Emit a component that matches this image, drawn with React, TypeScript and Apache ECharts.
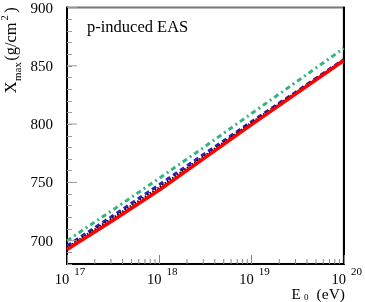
import React, { useEffect, useRef } from 'react';
import * as echarts from 'echarts';

const exponents = [17, 17.5, 18, 18.5, 19, 19.5, 20];
const redValues = [692.5, 717.5, 743.5, 771.5, 799.5, 827, 854.5];
const blackValues = [694, 719.5, 745.5, 773, 801, 828, 855];
const blueValues = [695.5, 721.5, 748, 775, 802, 828.5, 855.5];
const greenValues = [700, 726.5, 753.5, 781, 809, 837, 865];

const yMajorTicks = [700, 750, 800, 850, 900];
const xDecades = [17, 18, 19];
const xMinorMultipliers = [2, 3, 4, 5, 6, 7, 8, 9];

const FONT = 'Liberation Serif';

export default function App() {
  const ref = useRef<HTMLDivElement>(null);
  useEffect(() => {
    const chart = echarts.init(ref.current!, null, { renderer: 'svg' });
    const toPairs = (vals: number[]) => exponents.map((e, i) => [Math.pow(10, e), vals[i]]);
    const xMinor: number[][] = [];
    xDecades.forEach((d) => xMinorMultipliers.forEach((m) => xMinor.push([m * Math.pow(10, d), 680])));
    const yMajor = yMajorTicks.map((v) => [1e17, v]);

    const option: any = {
      animation: false,
      grid: { left: 67, right: 19, top: 7, bottom: 38, show: true, borderColor: '#777', borderWidth: 2, backgroundColor: 'transparent' },
      xAxis: [
        {
          type: 'log', logBase: 10, min: 1e17, max: 1e20,
          axisLine: { lineStyle: { color: '#000', width: 2 } },
          axisTick: { inside: true, length: 9, lineStyle: { color: '#888', width: 1 } },
          splitLine: { show: false },
          axisLabel: {
            showMinLabel: true, showMaxLabel: true, margin: 1,
            formatter: (v: number) => `{b|10}{s|${Math.round(Math.log10(v))}}`,
            rich: {
              b: { fontFamily: FONT, fontSize: 14.5, color: '#000', lineHeight: 21, verticalAlign: 'bottom', padding: [0, 5, 0, 6] },
              s: { fontFamily: FONT, fontSize: 11, color: '#000', lineHeight: 12, verticalAlign: 'top' },
            },
          },
        },
      ],
      yAxis: [
        {
          type: 'value', min: 680, max: 900, interval: 10,
          axisLine: { lineStyle: { color: '#000', width: 2 } },
          axisTick: { inside: true, length: 5, lineStyle: { color: '#999', width: 1 } },
          splitLine: { show: false },
          axisLabel: { customValues: yMajorTicks, fontFamily: FONT, fontSize: 15, color: '#000', margin: 14 },
        },
        {
          type: 'value', min: 680, max: 900, interval: 10, position: 'right',
          axisLine: { show: true, lineStyle: { color: '#000', width: 2 } },
          axisTick: { show: false }, axisLabel: { show: false }, splitLine: { show: false },
        },
      ],
      series: [
        {
          type: 'line', data: toPairs(greenValues), symbol: 'none',
          lineStyle: { color: '#35b383', width: 3, type: [5, 3.5, 2, 3.5] }, z: 2,
        },
        {
          type: 'line', data: toPairs(blueValues), symbol: 'none',
          lineStyle: { color: '#3020b8', width: 3, type: [5, 3.5] }, z: 3,
        },
        {
          type: 'line', data: toPairs(blackValues), symbol: 'none',
          lineStyle: { color: '#000', width: 2.5, type: [1.5, 1.5] }, z: 4,
        },
        {
          type: 'line', data: toPairs(redValues), symbol: 'none',
          lineStyle: { color: '#ff0000', width: 3.5, type: 'solid' }, z: 5,
        },
        {
          type: 'custom', silent: true, clip: false, z: 6, data: xMinor,
          renderItem: (params: any, api: any) => {
            const p = api.coord([api.value(0), api.value(1)]);
            return { type: 'line', shape: { x1: p[0], y1: p[1], x2: p[0], y2: p[1] - 5 }, style: { stroke: '#888', lineWidth: 1 } };
          },
        },
        {
          type: 'custom', silent: true, clip: false, z: 6, data: yMajor,
          renderItem: (params: any, api: any) => {
            const p = api.coord([api.value(0), api.value(1)]);
            return { type: 'line', shape: { x1: p[0], y1: p[1], x2: p[0] + 10, y2: p[1] }, style: { stroke: '#999', lineWidth: 1 } };
          },
        },
      ],
      graphic: [
        { type: 'text', left: 87, top: 18, style: { text: 'p-induced EAS', fontFamily: FONT, fontSize: 16.5, fill: '#000' } },
        {
          type: 'group', x: 0, y: 93.3, rotation: Math.PI / 2,
          children: [
            { type: 'text', x: 0, y: 10.7, style: { text: 'X', fontFamily: FONT, fontSize: 16.5, fill: '#000', verticalAlign: 'middle', align: 'left' } },
            { type: 'text', x: 12.3, y: 17.2, style: { text: 'max', fontFamily: FONT, fontSize: 11, fill: '#000', verticalAlign: 'middle', align: 'left' } },
            { type: 'text', x: 32.5, y: 10.7, style: { text: '(g/cm', fontFamily: FONT, fontSize: 16.5, fill: '#000', verticalAlign: 'middle', align: 'left' } },
            { type: 'text', x: 72.8, y: 4.8, style: { text: '2', fontFamily: FONT, fontSize: 10.5, fill: '#000', verticalAlign: 'middle', align: 'left' } },
            { type: 'text', x: 80.5, y: 10.7, style: { text: ')', fontFamily: FONT, fontSize: 16.5, fill: '#000', verticalAlign: 'middle', align: 'left' } },
          ],
        },
        { type: 'text', x: 291.5, y: 293.5, style: { text: 'E', fontFamily: FONT, fontSize: 15, fill: '#000', verticalAlign: 'middle', align: 'left' } },
        { type: 'text', x: 304, y: 296.5, style: { text: '0', fontFamily: FONT, fontSize: 9, fill: '#000', verticalAlign: 'middle', align: 'left' } },
        { type: 'text', x: 345, y: 293.5, style: { text: '(eV)', fontFamily: FONT, fontSize: 15.5, fill: '#000', verticalAlign: 'middle', align: 'right' } },
      ],
    };
    chart.setOption(option);
    return () => chart.dispose();
  }, []);
  return <div ref={ref} style={{ position: 'fixed', left: 0, top: 0, width: 365, height: 302 }} />;
}
